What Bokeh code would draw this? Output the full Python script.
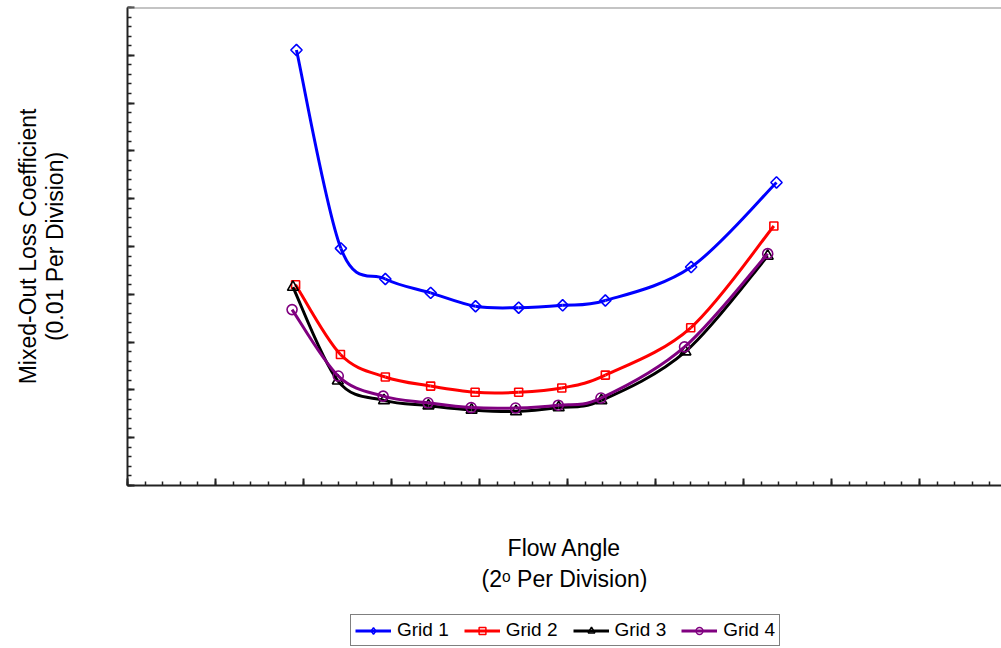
import numpy as np
from bokeh.plotting import figure
from bokeh.layouts import column
from bokeh.models import (Legend, LegendItem, FixedTicker, CustomJSTickFormatter,
                          Span, ColumnDataSource, Range1d)
from bokeh.embed import file_html
from bokeh.resources import INLINE

# ---------------- data (flow angle in degrees, mixed-out loss coefficient) ----
angle1 = [3.84, 4.85, 5.86, 6.89, 7.91, 8.89, 9.89, 10.86, 12.81, 14.75]
loss1 = [0.0911, 0.0496, 0.0432, 0.0403, 0.0375, 0.0372, 0.0377, 0.0387, 0.0457, 0.0634]
angle2 = [3.82, 4.84, 5.86, 6.89, 7.90, 8.89, 9.87, 10.86, 12.80, 14.69]
loss2 = [0.0420, 0.0274, 0.0227, 0.0208, 0.0195, 0.0195, 0.0204, 0.0231, 0.0330, 0.0543]
angle3 = [3.76, 4.78, 5.83, 6.84, 7.82, 8.83, 9.80, 10.77, 12.68, 14.55]
loss3 = [0.0415, 0.0219, 0.0178, 0.0167, 0.0158, 0.0155, 0.0163, 0.0178, 0.0280, 0.0480]
angle4 = [3.74, 4.79, 5.81, 6.83, 7.81, 8.82, 9.79, 10.76, 12.66, 14.55]
loss4 = [0.0368, 0.0229, 0.0187, 0.0173, 0.0163, 0.0162, 0.0168, 0.0183, 0.0290, 0.0485]
series_names = ["Grid 1", "Grid 2", "Grid 3", "Grid 4"]
x_title = "Flow Angle\n(2\u1d52 Per Division)"
y_title = "Mixed-Out Loss Coefficient\n(0.01 Per Division)"

FONT = "Liberation Sans"
W = 1001
LEFT, TOP = 127, 7
FW, FH = 874, 478
MAIN_H = 608
LEG_H = 40
X_END = FW / 44.0
Y_END = 0.1

p = figure(frame_width=FW, frame_height=FH, output_backend="svg", toolbar_location=None,
           x_range=Range1d(0, X_END), y_range=Range1d(0, Y_END),
           min_border_left=LEFT, min_border_right=0, min_border_top=TOP,
           min_border_bottom=MAIN_H - TOP - FH, background_fill_color="white",
           border_fill_color="white", outline_line_color=None)
p.xgrid.visible = False
p.ygrid.visible = False

x_major = list(np.arange(0, X_END + 1e-9, 2.0))
x_minor = list(np.arange(0, X_END + 1e-9, 0.4))
y_major = list(np.arange(0, Y_END + 1e-9, 0.01))
y_minor = list(np.arange(0, Y_END + 1e-9, 0.002))
p.xaxis[0].ticker = FixedTicker(ticks=x_major, minor_ticks=x_minor)
p.yaxis[0].ticker = FixedTicker(ticks=y_major, minor_ticks=y_minor)

blank = CustomJSTickFormatter(code="return ''")
for ax in (p.xaxis[0], p.yaxis[0]):
    ax.formatter = blank
    ax.major_tick_in = 7
    ax.major_tick_out = 0
    ax.minor_tick_in = 4
    ax.minor_tick_out = 0
    ax.axis_line_width = 2
    ax.axis_line_color = "#222222"
    ax.major_tick_line_width = 2
    ax.minor_tick_line_width = 1.5
    ax.major_tick_line_color = "#222222"
    ax.minor_tick_line_color = "#222222"
    ax.major_label_text_font_size = "1px"
    ax.major_label_standoff = 0
    ax.axis_label_text_font = FONT
    ax.axis_label_text_font_size = "23px"
    ax.axis_label_text_font_style = "normal"
    ax.axis_label_text_color = "black"
    ax.axis_label_text_align = "center"
    ax.axis_label_text_line_height = 1.2

p.xaxis[0].axis_label = x_title
p.xaxis[0].axis_label_standoff = 49
p.yaxis[0].axis_label = y_title
p.yaxis[0].axis_label_standoff = 60
p.yaxis[0].axis_label_text_line_height = 1.03

p.add_layout(Span(location=Y_END, dimension="width", line_color="#8a8a8a", line_width=2))


def bezier_segments(xs, ys, t=1.0):
    n = len(xs)
    d = dict(x0=[], y0=[], x1=[], y1=[], cx0=[], cy0=[], cx1=[], cy1=[])
    for i in range(n - 1):
        a = i - 1 if i > 0 else i
        b = i + 2 if i + 2 < n else i + 1
        d["x0"].append(xs[i]); d["y0"].append(ys[i])
        d["x1"].append(xs[i + 1]); d["y1"].append(ys[i + 1])
        d["cx0"].append(xs[i] + (xs[i + 1] - xs[a]) / 6 * t)
        d["cy0"].append(ys[i] + (ys[i + 1] - ys[a]) / 6 * t)
        d["cx1"].append(xs[i + 1] - (xs[b] - xs[i]) / 6 * t)
        d["cy1"].append(ys[i + 1] - (ys[b] - ys[i]) / 6 * t)
    return ColumnDataSource(d)


styles = [
    dict(color="#0000ff", marker="square", size=8, angle=np.pi / 4, leg_marker="diamond"),
    dict(color="#ff0000", marker="square", size=8, angle=0, leg_marker="square"),
    dict(color="#000000", marker="triangle", size=11, angle=0, leg_marker="triangle"),
    dict(color="#800080", marker="circle", size=10, angle=0, leg_marker="circle"),
]
all_x = [angle1, angle2, angle3, angle4]
all_y = [loss1, loss2, loss3, loss4]

for xs, ys, st in zip(all_x, all_y, styles):
    src = bezier_segments(xs, ys)
    p.bezier(x0="x0", y0="y0", x1="x1", y1="y1", cx0="cx0", cy0="cy0",
             cx1="cx1", cy1="cy1", source=src, line_color=st["color"], line_width=3)
    p.scatter(xs, ys, marker=st["marker"], size=st["size"], angle=st["angle"],
              fill_color=None, line_color=st["color"], line_width=1.6)

# ---- legend strip below the chart (hidden proxies carry the legend glyphs) ----
lf = figure(width=W, height=LEG_H, output_backend="svg", toolbar_location=None,
            x_range=Range1d(0, W), y_range=Range1d(0, LEG_H),
            x_axis_type=None, y_axis_type=None, min_border=0,
            outline_line_color=None, background_fill_color="white",
            border_fill_color="white")
lf.xgrid.visible = False
lf.ygrid.visible = False
items = []
for name, xs, ys, st in zip(series_names, all_x, all_y, styles):
    rl = lf.line(x=xs, y=ys, line_color=st["color"], line_width=3, visible=False)
    rm = lf.scatter(x=xs, y=ys, marker=st["leg_marker"], fill_color=None,
                    line_color=st["color"], line_width=1.5, visible=False)
    items.append(LegendItem(label=name, renderers=[rl, rm]))

legend = Legend(items=items, orientation="horizontal", location=(350 - LEFT, 2),
                label_text_font=FONT, label_text_font_size="19px", label_text_color="black",
                glyph_width=36, glyph_height=17, label_standoff=6, spacing=15,
                padding=4, margin=0, border_line_color="black", border_line_width=1,
                background_fill_color="white", click_policy="none")
lf.add_layout(legend, "center")

layout = column(p, lf, spacing=0)
open("out.html", "w").write(file_html(layout, INLINE))
